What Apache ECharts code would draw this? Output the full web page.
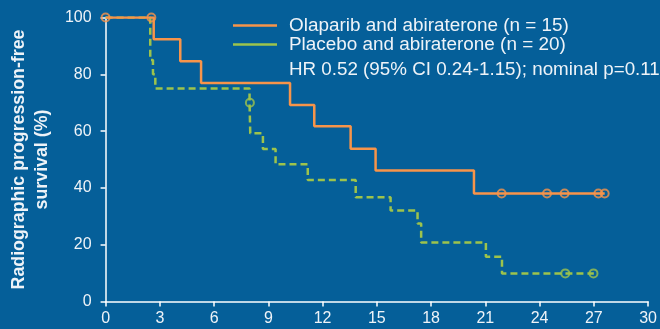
<!DOCTYPE html>
<html>
<head>
<meta charset="utf-8">
<script src="https://cdn.jsdelivr.net/npm/echarts@6/dist/echarts.min.js"></script>
<style>
html,body{margin:0;padding:0;background:#055f99;}
#c{width:660px;height:329px;}
</style>
</head>
<body>
<div id="c"></div>
<script>
// ---- data ----
const xTicks = [0, 3, 6, 9, 12, 15, 18, 21, 24, 27, 30];
const yTicks = [0, 20, 40, 60, 80, 100];

// Olaparib and abiraterone (n = 15): event times and survival after each step
const olaTimes = [0, 2.66, 4.13, 5.28, 10.2, 11.54, 13.55, 14.93, 20.37, 27.6];
const olaSurv  = [100, 92.3, 84.6, 76.9, 69.2, 61.7, 53.8, 46.1, 38.0, 38.0];
const olaCensorT = [0, 2.53, 21.9, 24.41, 25.38, 27.25, 27.6];
const olaCensorS = [100, 100, 38.0, 38.0, 38.0, 38.0, 38.0];

// Placebo and abiraterone (n = 20)
const plaTimes = [0, 2.47, 2.62, 2.75, 7.96, 8.0, 8.7, 9.4, 11.18, 13.83, 15.76, 17.25, 17.45, 21.03, 21.92, 27.0];
const plaSurv  = [100, 85, 80, 75, 70, 59.2, 53.7, 48.3, 42.8, 36.7, 32.0, 27.5, 20.8, 15.8, 9.9, 9.9];
const plaCensorT = [7.98, 25.42, 26.98];
const plaCensorS = [70, 9.9, 9.9];

const names = ['Olaparib and abiraterone (n = 15)', 'Placebo and abiraterone (n = 20)'];
const hrText = 'HR 0.52 (95% CI 0.24-1.15); nominal p=0.11';
const yTitle = 'Radiographic progression-free\nsurvival (%)';

const ORANGE = '#f7944a';
const GREEN = '#9dc34c';
const TXT = '#eef3f8';
const FONT = '"Liberation Sans", Arial, sans-serif';

const zip = (a, b) => a.map((v, i) => [v, b[i]]);

const chart = echarts.init(document.getElementById('c'), null, {renderer: 'canvas'});
chart.setOption({
  backgroundColor: '#055f99',
  animation: false,
  textStyle: {fontFamily: FONT},
  grid: {left: 103, right: 11, top: 17.5, bottom: 27.5},
  xAxis: {
    type: 'value', min: 0, max: 30, interval: 3,
    axisLine: {show: true, lineStyle: {color: '#ffffff', width: 1.5}},
    axisTick: {show: true, length: 5, lineStyle: {color: '#ffffff', width: 1.5}},
    axisLabel: {color: TXT, fontSize: 16, margin: 9,
      formatter: v => xTicks.includes(v) ? String(v) : ''},
    splitLine: {show: false}
  },
  yAxis: {
    type: 'value', min: 0, max: 100, interval: 20,
    name: yTitle, nameLocation: 'middle', nameRotate: 90, nameGap: 46.5,
    nameTextStyle: {color: TXT, fontSize: 17.8, fontWeight: 'bold', lineHeight: 23, align: 'center'},
    axisLine: {show: true, lineStyle: {color: '#ffffff', width: 1.5}},
    axisTick: {show: true, length: 5, lineStyle: {color: '#ffffff', width: 1.5}},
    axisLabel: {color: TXT, fontSize: 16, margin: 14,
      formatter: v => yTicks.includes(v) ? String(v) : ''},
    splitLine: {show: false}
  },
  legend: {
    orient: 'vertical', left: 233, top: 16, padding: 0, itemGap: 0,
    itemWidth: 44, itemHeight: 2.5, icon: 'rect',
    data: names,
    textStyle: {color: TXT, fontSize: 18.9, lineHeight: 19, padding: [0, 0, 0, 7]}
  },
  graphic: [{
    type: 'text', left: 289, top: 60.5,
    style: {text: hrText, fill: TXT, fontSize: 18.8, fontFamily: FONT}
  }],
  series: [
    {
      name: names[1], type: 'line', step: 'end', data: zip(plaTimes, plaSurv),
      showSymbol: false, symbol: 'none', z: 2,
      itemStyle: {color: GREEN},
      lineStyle: {color: GREEN, width: 2.5, type: [7, 4]}
    },
    {
      name: names[1] + ' censored', type: 'scatter', data: zip(plaCensorT, plaCensorS),
      symbol: 'circle', symbolSize: 8, z: 3,
      itemStyle: {color: 'rgba(0,0,0,0)', borderColor: GREEN, borderWidth: 2}
    },
    {
      name: names[0], type: 'line', step: 'end', data: zip(olaTimes, olaSurv),
      showSymbol: false, symbol: 'none', z: 4,
      itemStyle: {color: ORANGE},
      lineStyle: {color: ORANGE, width: 2.5}
    },
    {
      name: names[0] + ' censored', type: 'scatter', data: zip(olaCensorT, olaCensorS),
      symbol: 'circle', symbolSize: 8, z: 5,
      itemStyle: {color: 'rgba(0,0,0,0)', borderColor: ORANGE, borderWidth: 2}
    }
  ]
});
</script>
</body>
</html>
